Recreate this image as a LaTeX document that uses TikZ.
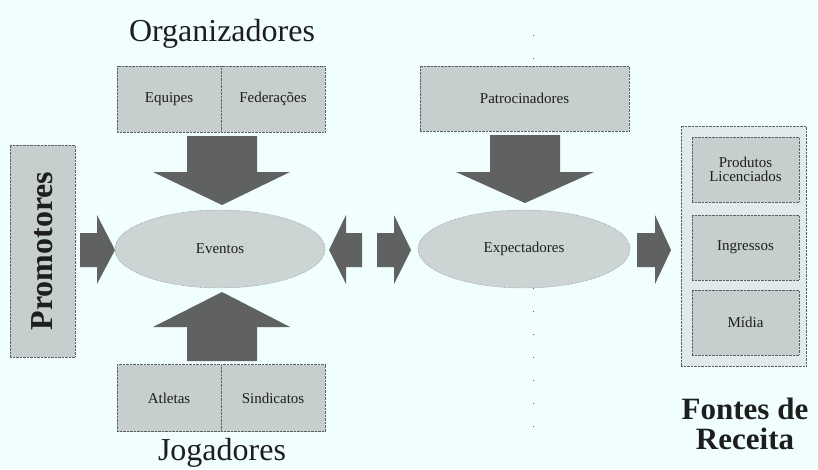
\documentclass[tikz,border=0pt]{standalone}
\usepackage{fontspec}
\setmainfont{Liberation Serif}
\usetikzlibrary{shapes.geometric}
\definecolor{bgc}{RGB}{240,254,254}
\definecolor{boxfill}{RGB}{198,206,206}
\definecolor{ellfill}{RGB}{204,212,212}
\definecolor{outerfill}{RGB}{224,234,234}
\definecolor{arrowfill}{RGB}{96,98,98}
\definecolor{edgec}{RGB}{90,95,95}
\definecolor{txtc}{RGB}{30,30,30}
\tikzset{
  box/.style={rectangle, draw=edgec, densely dotted, fill=boxfill, text=txtc,
    font=\fontsize{15}{17}\selectfont, inner sep=0pt, align=center},
  ell/.style={ellipse, draw=edgec, densely dotted, fill=ellfill, text=txtc,
    font=\fontsize{15}{17}\selectfont, inner sep=0pt},
  title/.style={text=txtc, font=\fontsize{32}{34}\selectfont, inner sep=0pt},
  btitle/.style={text=txtc, font=\bfseries\fontsize{31}{33}\selectfont, inner sep=0pt, align=center},
  blockarrow/.style={fill=arrowfill, draw=none},
}
\begin{document}
\begin{tikzpicture}[x=1pt,y=-1pt]
\fill[bgc] (0,0) rectangle (818,469);
\useasboundingbox (0,0) rectangle (818,469);
% faint dotted divider
\draw[edgec, line width=1pt, dash pattern=on 1pt off 22pt] (533,35) -- (533,430);
% titles
\node[title] (org) at (222,34) {Organizadores};
\node[title] (jog) at (222,453) {Jogadores};
\node[btitle] (fontes) at (745,424) {Fontes de\\[-3pt]Receita};
% top boxes
\node[box, minimum width=104pt, minimum height=66pt] (equipes) at (169,99) {Equipes};
\node[box, minimum width=104pt, minimum height=66pt] (feder) at (273,99) {Federações};
% bottom boxes
\node[box, minimum width=104pt, minimum height=67pt] (atletas) at (169,398) {Atletas};
\node[box, minimum width=104pt, minimum height=67pt] (sind) at (273,398) {Sindicatos};
% patrocinadores
\node[box, minimum width=209pt, minimum height=65pt] (patro) at (524.5,98.5) {Patrocinadores};
% promotores
\node[box, minimum width=65pt, minimum height=212pt] (promo) at (42.5,251) {};
\node[text=txtc, font=\bfseries\fontsize{32}{34}\selectfont, rotate=90, inner sep=0pt] (promotxt) at (promo.center) {Promotores};
% ellipses
\node[ell, minimum width=210pt, minimum height=78pt] (evento) at (220,249) {Eventos};
\node[ell, minimum width=212pt, minimum height=78pt] (expect) at (524,249) {Expectadores};
% fontes de receita
\node[rectangle, draw=edgec, densely dotted, fill=outerfill, minimum width=125pt, minimum height=240pt] (outer) at (743.5,246) {};
\node[box, minimum width=107pt, minimum height=65pt] (prod) at (745.5,169.5) {Produtos\\[-3pt]Licenciados};
\node[box, minimum width=107pt, minimum height=65pt] (ingr) at (745.5,247.5) {Ingressos};
\node[box, minimum width=107pt, minimum height=65pt] (midia) at (745.5,322.5) {Mídia};
% block arrows
\fill[blockarrow] (187,136) -- (257,136) -- (257,172) -- (290,172) -- (222,205) -- (153,172) -- (187,172) -- cycle;
\fill[blockarrow] (490,135) -- (560,135) -- (560,172) -- (594,172) -- (525,203) -- (456,172) -- (490,172) -- cycle;
\fill[blockarrow] (187,361) -- (257,361) -- (257,327) -- (290,327) -- (222,292) -- (153,327) -- (187,327) -- cycle;
\fill[blockarrow] (80,233) -- (97,233) -- (97,215) -- (115,250) -- (97,284) -- (97,267) -- (80,267) -- cycle;
\fill[blockarrow] (362,233) -- (346,233) -- (346,215) -- (329,250) -- (346,284) -- (346,267) -- (362,267) -- cycle;
\fill[blockarrow] (377,233) -- (394,233) -- (394,215) -- (411,250) -- (394,284) -- (394,267) -- (377,267) -- cycle;
\fill[blockarrow] (637,233) -- (655,233) -- (655,215) -- (671,250) -- (655,284) -- (655,267) -- (637,267) -- cycle;
\end{tikzpicture}
\end{document}
